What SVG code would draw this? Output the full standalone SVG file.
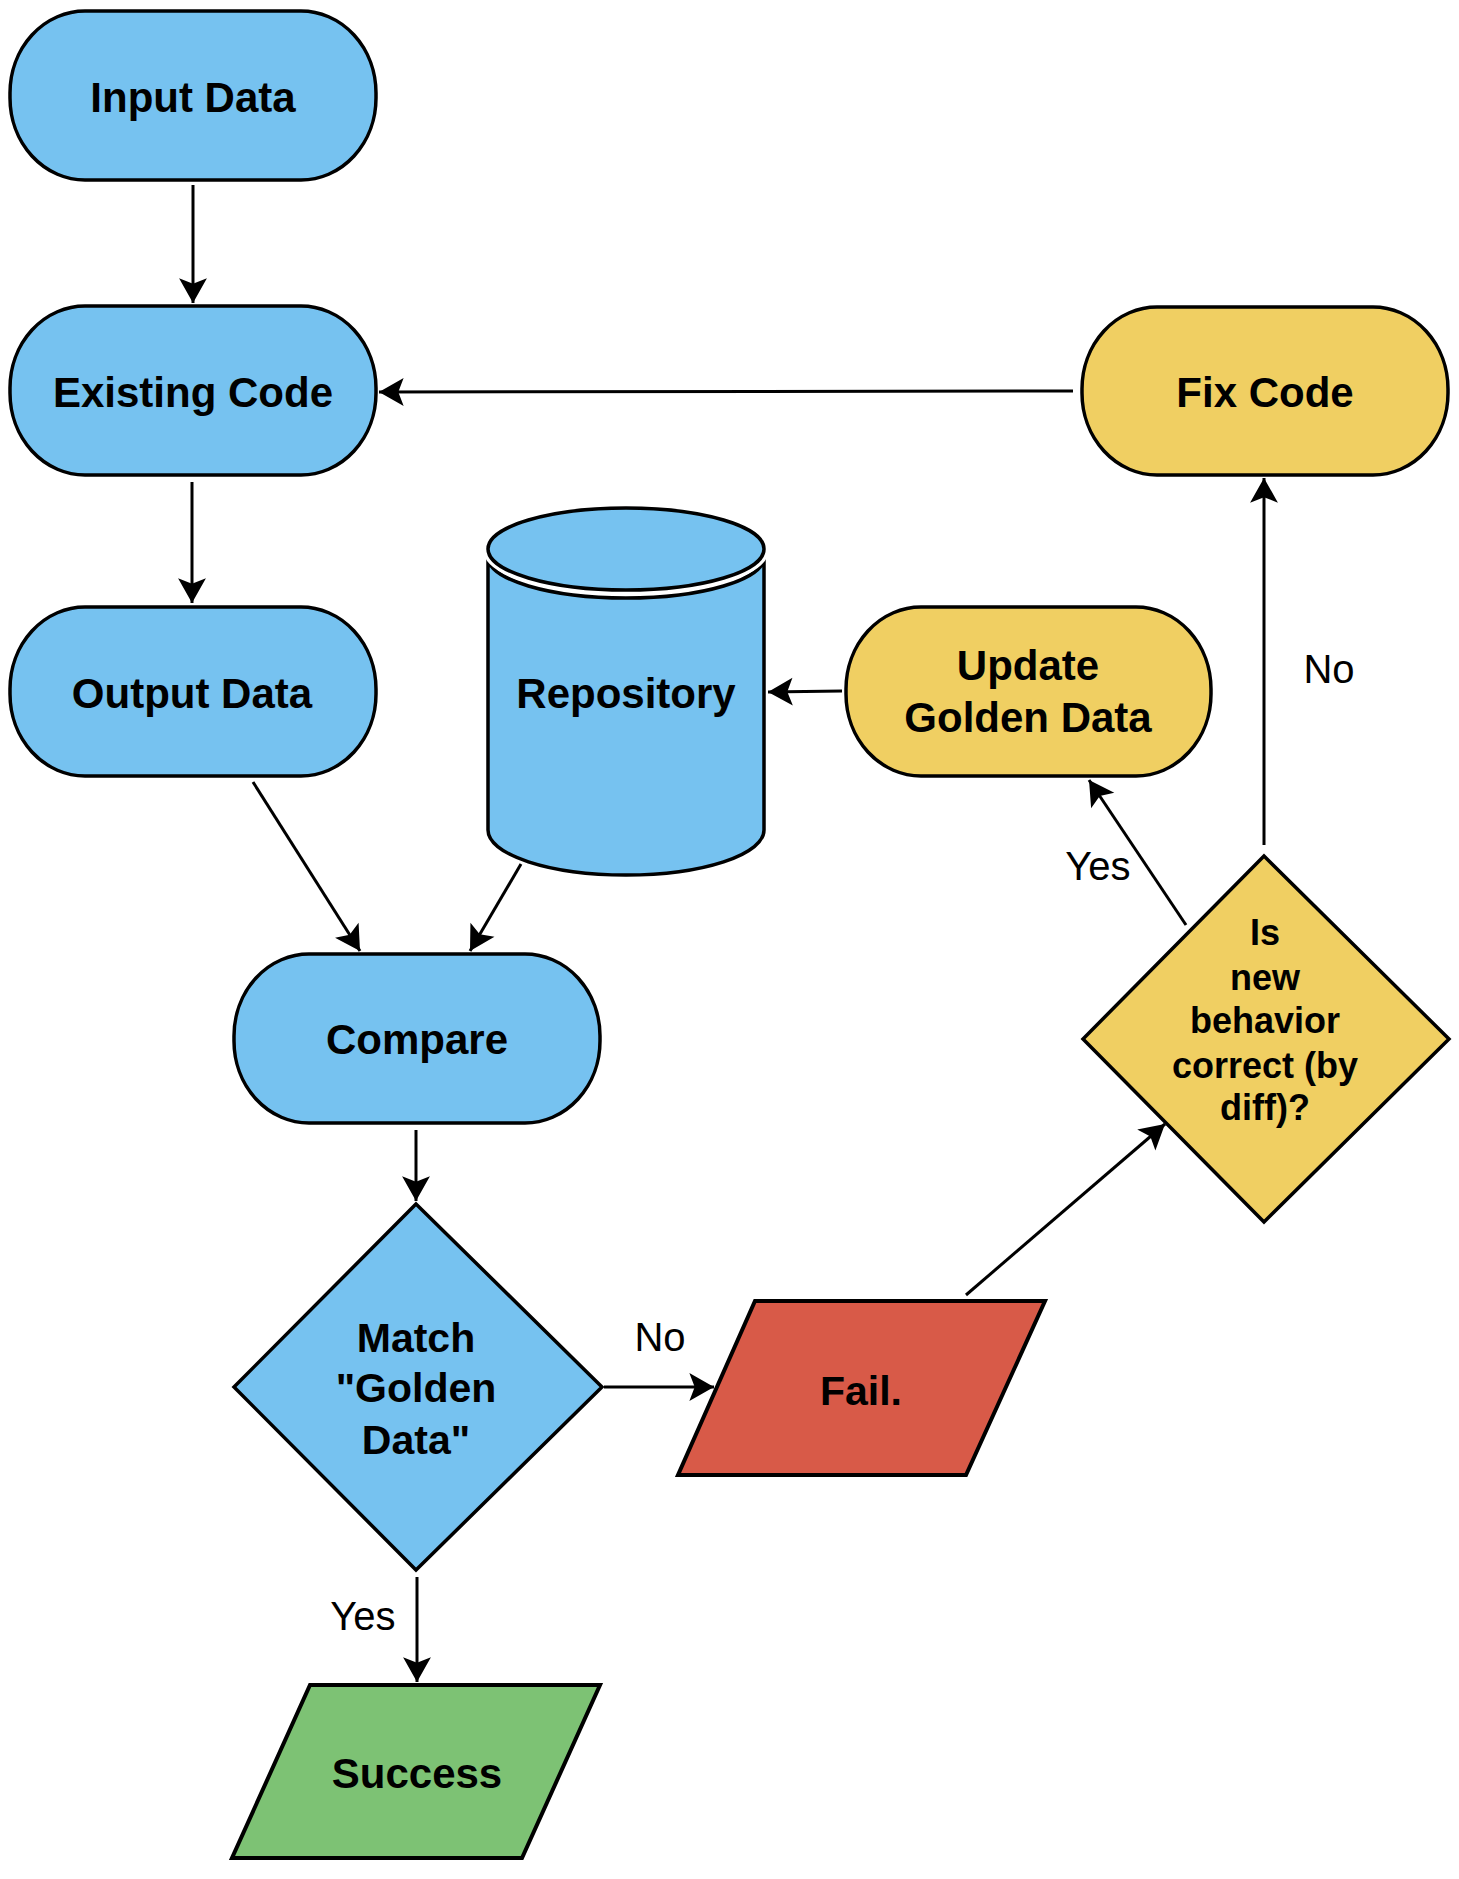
<svg xmlns="http://www.w3.org/2000/svg" width="1459" height="1879" viewBox="0 0 1459 1879">
<defs>
<style>
.blue{fill:#76C2F0;stroke:#000;stroke-width:3.5}
.yellow{fill:#F0CF62;stroke:#000;stroke-width:3.5}
.red{fill:#D85A48;stroke:#000;stroke-width:4}
.green{fill:#7DC274;stroke:#000;stroke-width:4}
.lbl{font-family:"Liberation Sans",Arial,sans-serif;font-weight:bold;font-size:42px;fill:#000;text-anchor:middle}
.dlbl{font-family:"Liberation Sans",Arial,sans-serif;font-weight:bold;font-size:36px;fill:#000;text-anchor:middle}
.elbl{font-family:"Liberation Sans",Arial,sans-serif;font-size:40px;fill:#000;text-anchor:middle}
.conn{fill:none;stroke:#000;stroke-width:3}
</style>
<marker id="arr" markerUnits="userSpaceOnUse" markerWidth="30" markerHeight="30" viewBox="-1 -14 26 28" refX="23" refY="0" orient="auto">
<path d="M0,-13 L23,0 L0,13 L5,0 Z" fill="#000"/>
</marker>
</defs>
<rect width="1459" height="1879" fill="#fff"/>

<g id="input-data">
<rect class="blue" x="10" y="11" width="366" height="169" rx="75" ry="82"/>
<text class="lbl" x="193" y="112">Input Data</text>
</g>
<g id="existing-code">
<rect class="blue" x="10" y="306" width="366" height="169" rx="75" ry="82"/>
<text class="lbl" x="193" y="407">Existing Code</text>
</g>
<g id="output-data">
<rect class="blue" x="10" y="607" width="366" height="169" rx="75" ry="82"/>
<text class="lbl" x="192" y="708">Output Data</text>
</g>
<g id="repository">
<path class="blue" d="M488,557 A138,41 0 0 0 764,557 L764,830 A138,45 0 0 1 488,830 Z"/>
<ellipse cx="626" cy="549" rx="138" ry="41" fill="none" stroke="#fff" stroke-width="10"/>
<ellipse class="blue" cx="626" cy="549" rx="138" ry="41"/>
<text class="lbl" x="626" y="708">Repository</text>
</g>
<g id="update-golden-data">
<rect class="yellow" x="846" y="607" width="365" height="169" rx="75" ry="82"/>
<text class="lbl" x="1028" y="680">Update</text>
<text class="lbl" x="1028" y="732">Golden Data</text>
</g>
<g id="fix-code">
<rect class="yellow" x="1082" y="307" width="366" height="168" rx="75" ry="82"/>
<text class="lbl" x="1265" y="407">Fix Code</text>
</g>
<g id="compare">
<rect class="blue" x="234" y="954" width="366" height="169" rx="75" ry="82"/>
<text class="lbl" x="417" y="1054">Compare</text>
</g>
<g id="match-golden-data">
<polygon class="blue" points="416,1204 602,1387 416,1570 234,1387"/>
<text class="lbl" style="font-size:41px" x="416" y="1352">Match</text>
<text class="lbl" style="font-size:41px" x="416" y="1402">"Golden</text>
<text class="lbl" style="font-size:41px" x="416" y="1454">Data"</text>
</g>
<g id="fail">
<polygon class="red" points="755,1301 1045,1301 966,1475 678,1475"/>
<text class="lbl" style="font-size:41px" x="861" y="1405">Fail.</text>
</g>
<g id="success">
<polygon class="green" points="310,1685 600,1685 522,1858 232,1858"/>
<text class="lbl" x="417" y="1788">Success</text>
</g>
<g id="is-new-behavior-correct">
<polygon class="yellow" points="1264,856 1449,1039 1264,1222 1083,1039"/>
<text class="dlbl" x="1265" y="945">Is</text>
<text class="dlbl" x="1265" y="990">new</text>
<text class="dlbl" x="1265" y="1033">behavior</text>
<text class="dlbl" x="1265" y="1078">correct (by</text>
<text class="dlbl" x="1265" y="1120">diff)?</text>
</g>

<g id="connectors">
<path class="conn" d="M193,185 L193,303" marker-end="url(#arr)"/>
<path class="conn" d="M192,482 L192,603" marker-end="url(#arr)"/>
<path class="conn" d="M253,782 L360,951" marker-end="url(#arr)"/>
<path class="conn" d="M521,864 L470,951" marker-end="url(#arr)"/>
<path class="conn" d="M416,1130 L416,1201" marker-end="url(#arr)"/>
<path class="conn" d="M604,1387 L714,1387" marker-end="url(#arr)"/>
<path class="conn" d="M417,1577 L417,1682" marker-end="url(#arr)"/>
<path class="conn" d="M966,1295 L1165,1124" marker-end="url(#arr)"/>
<path class="conn" d="M1186,925 L1089,780" marker-end="url(#arr)"/>
<path class="conn" d="M1264,845 L1264,478" marker-end="url(#arr)"/>
<path class="conn" d="M842,691 L768,692" marker-end="url(#arr)"/>
<path class="conn" d="M1073,391 L379,392" marker-end="url(#arr)"/>
<text class="elbl" x="660" y="1351">No</text>
<text class="elbl" x="363" y="1630">Yes</text>
<text class="elbl" x="1098" y="880">Yes</text>
<text class="elbl" x="1329" y="683">No</text>
</g>
</svg>
